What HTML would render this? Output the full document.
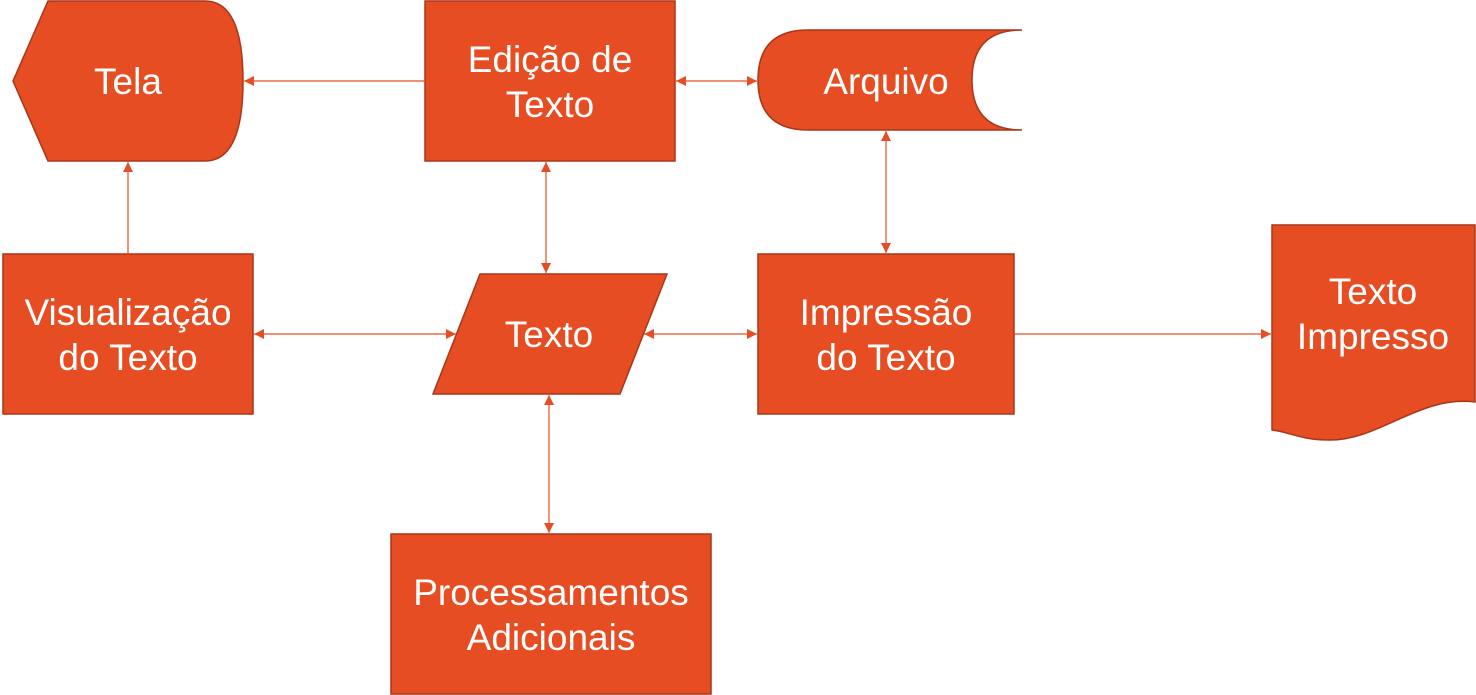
<!DOCTYPE html>
<html><head><meta charset="utf-8"><style>
html,body{margin:0;padding:0;background:#fff;width:1476px;height:695px;overflow:hidden}
text{font-family:"Liberation Sans",Arial,sans-serif;font-size:37px;fill:#fff;text-anchor:middle}
</style></head><body>
<svg width="1476" height="695" viewBox="0 0 1476 695" xmlns="http://www.w3.org/2000/svg">
<defs>
<marker id="a" viewBox="0 0 10 10" refX="10" refY="5" markerWidth="10" markerHeight="10" markerUnits="userSpaceOnUse" orient="auto-start-reverse">
<path d="M0,0 L10,5 L0,10 z" fill="#E64D22"/></marker>
</defs>
<g fill="#E64D22" stroke="#A8361A" stroke-width="1.5">
<path d="M13,81 L48,1 L205,1 Q243,1 243,81 Q243,161 205,161 L48,161 Z"/>
<rect x="425" y="1" width="250" height="160"/>
<path d="M808,30 L1022,30 Q972,30 972,80 Q972,130 1022,130 L808,130 Q758,130 758,80 Q758,30 808,30 Z"/>
<rect x="3" y="254" width="250" height="160"/>
<path d="M480,274 L667,274 L620,394 L433,394 Z"/>
<rect x="758" y="254" width="256" height="160"/>
<path d="M1272,225 L1475,225 L1475,402 C1420,395 1380,440 1330,440 C1300,440 1290,432 1272,430 Z"/>
<rect x="391" y="534" width="320" height="160"/>
</g>
<g stroke="#E64D22" stroke-width="1.2" fill="none">
<line x1="425" y1="81" x2="244" y2="81" marker-end="url(#a)"/>
<line x1="676" y1="81" x2="757" y2="81" marker-start="url(#a)" marker-end="url(#a)"/>
<line x1="128" y1="254" x2="128" y2="162" marker-end="url(#a)"/>
<line x1="546" y1="162" x2="546" y2="273" marker-start="url(#a)" marker-end="url(#a)"/>
<line x1="254" y1="334" x2="456" y2="334" marker-start="url(#a)" marker-end="url(#a)"/>
<line x1="644" y1="334" x2="757" y2="334" marker-start="url(#a)" marker-end="url(#a)"/>
<line x1="886" y1="131" x2="886" y2="253" marker-start="url(#a)" marker-end="url(#a)"/>
<line x1="549" y1="395" x2="549" y2="533" marker-start="url(#a)" marker-end="url(#a)"/>
<line x1="1014" y1="334" x2="1271" y2="334" marker-end="url(#a)"/>
</g>
<text x="128" y="94">Tela</text>
<text x="550" y="72">Edição de</text>
<text x="550" y="117">Texto</text>
<text x="886" y="94">Arquivo</text>
<text x="128" y="325">Visualização</text>
<text x="128" y="370">do Texto</text>
<text x="549" y="347">Texto</text>
<text x="886" y="325">Impressão</text>
<text x="886" y="370">do Texto</text>
<text x="1373" y="304">Texto</text>
<text x="1373" y="349">Impresso</text>
<text x="551" y="605">Processamentos</text>
<text x="551" y="650">Adicionais</text>
</svg>
</body></html>
